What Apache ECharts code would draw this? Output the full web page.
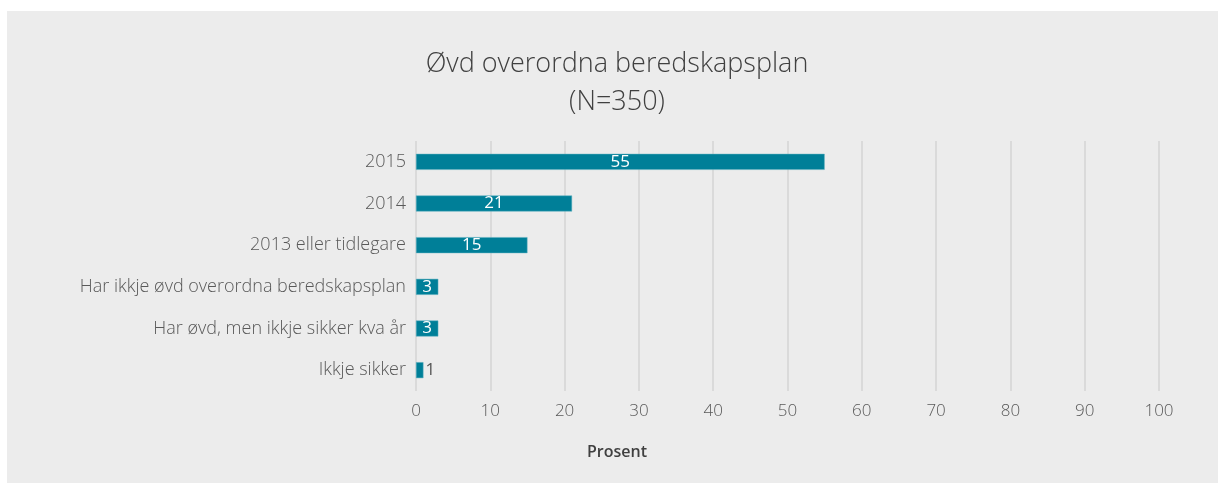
<!DOCTYPE html>
<html>
<head>
<meta charset="utf-8">
<script src="https://cdn.jsdelivr.net/npm/echarts@6/dist/echarts.min.js"></script>
<style>
  html, body { margin: 0; padding: 0; background: #ffffff; }
  #chart { position: absolute; left: 7px; top: 11px; width: 1211px; height: 472px; background: #ececec; }
</style>
</head>
<body>
<div id="chart"></div>
<script>
  // kategoriar (ovanfrå og ned)
  var categories = ['2015', '2014', '2013 eller tidlegare', 'Har ikkje øvd overordna beredskapsplan', 'Har øvd, men ikkje sikker kva år', 'Ikkje sikker'];
  var values = [55, 21, 15, 3, 3, 1];
  var xTicks = [0, 100, 10];

  var font = '"Open Sans", Lato, sans-serif';
  var chart = echarts.init(document.getElementById('chart'));

  // små stolpar får etiketten utanfor
  var barData = values.map(function (v) {
    if (v < 2) {
      return { value: v, label: { position: 'right', color: '#555555', distance: 2 } };
    }
    return v;
  });

  chart.setOption({
    backgroundColor: '#ececec',
    animation: false,
    title: {
      text: 'Øvd overordna beredskapsplan\n(N=350)',
      left: 605,
      top: 29,
      textAlign: 'center',
      textStyle: {
        fontFamily: font,
        fontSize: 27,
        fontWeight: 300,
        color: '#404040',
        lineHeight: 38
      }
    },
    grid: {
      left: 409,
      right: 1211 - 1152,
      top: 130,
      bottom: 472 - 380,
      containLabel: false
    },
    xAxis: {
      type: 'value',
      min: xTicks[0],
      max: xTicks[1],
      interval: xTicks[2],
      axisLine: { show: false },
      axisTick: { show: false },
      axisLabel: { color: '#595959', fontSize: 17, fontFamily: font, fontWeight: 300, margin: 12 },
      splitLine: { show: true, lineStyle: { color: '#dadada', width: 2 } }
    },
    yAxis: {
      type: 'category',
      inverse: true,
      data: categories,
      axisLine: { show: false },
      axisTick: { show: false },
      axisLabel: { color: '#595959', fontSize: 18, fontFamily: font, fontWeight: 300, margin: 10 }
    },
    series: [{
      type: 'bar',
      data: barData,
      barWidth: 16,
      itemStyle: { color: '#007f98', borderColor: '#5fb0c0', borderWidth: 0.5 },
      label: {
        show: true,
        position: 'inside',
        color: '#ffffff',
        fontSize: 17,
        fontFamily: font
      }
    }],
    graphic: [{
      type: 'text',
      left: 580,
      top: 433,
      style: {
        text: 'Prosent',
        fontSize: 16,
        fontWeight: 600,
        fontFamily: font,
        fill: '#404040'
      }
    }]
  });
</script>
</body>
</html>
